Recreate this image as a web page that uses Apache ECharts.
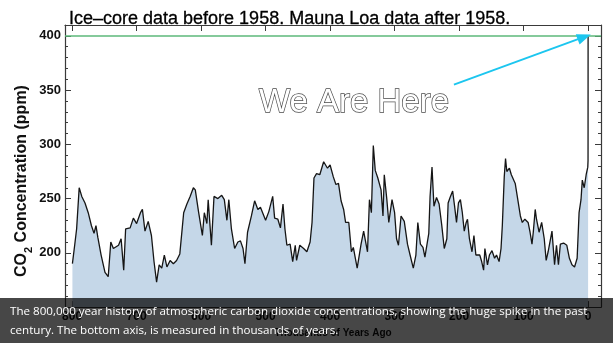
<!DOCTYPE html>
<html>
<head>
<meta charset="utf-8">
<script src="https://cdn.jsdelivr.net/npm/echarts@6/dist/echarts.min.js"></script>
<style>
html,body{margin:0;padding:0;background:#fff;}
#c{width:613px;height:343px;}
</style>
</head>
<body>
<div id="c"></div>
<script>
// Thousands of years ago
const years = [799.5,796,793,789,785,780,775,770,766,763,760,755,749,744,740,736,728,724,720,717,710,705,700,694,691,687,682,677,673,669,665,661,657,653,648,643,638,633,627,622,617,612,609,604,598,595,591,589,584,580,574,568,564,560,557,553,548,543,539,535,532,528,522,517,512,508,504,500,495,489,486,481,477,473,470,467,462,458,454,452,447,441,436,431,428,425,421,416,410,408,404,400,395,391,387,383,379,376,371,367,364,358,352,348,346,342,339,336,333,330,326,321,318,316,312,309,304,300,297,294,290,285,280,276,271,267,264,260,256,253,247,245,242,239,235,231,227,223,219,217,214,210,207,204,201,198,195,192,189,187,184,180,177,174,168,165,162,160,156,153,149,145,142,138,135,133,130,128,126,122,119,116,113,109,105,102,98,93,90,87,85,82,80,76,72,68,65,62,56,52,49,46,43,38,33,29,25,21,19,17,14,11,9,6,3,0.5,0.1,0.05,0];
// CO2 concentration (ppm)
const co2 = [190,207,222,260,252,246,237,225,218,225,214,198,182,178,210,204,207,213,184,222,223,232,227,237,240,220,229,216,192,173,189,186,198,187,193,190,193,199,237,245,252,260,258,238,216,237,227,249,207,252,250,253,249,230,249,222,204,210,211,204,190,219,234,248,240,242,236,230,238,252,232,231,223,245,222,207,208,192,207,193,207,204,201,210,228,269,273,272,284,285,278,281,270,263,264,248,240,228,228,201,205,186,208,220,219,201,249,237,299,276,269,258,234,272,249,228,249,237,213,207,234,229,208,198,186,198,228,208,205,196,218,252,279,243,251,245,226,204,213,246,251,257,243,228,246,249,237,220,228,231,213,201,216,198,198,192,184,204,189,198,202,195,198,192,204,225,270,287,275,278,272,273,264,249,234,228,231,228,219,208,219,240,231,219,228,213,193,201,220,189,207,189,208,209,207,195,189,187,186,195,237,249,267,260,272,279,285,315,400];
const xTicks = [800,700,600,500,400,300,200,100,0];
const yMajor = [150,200,250,300,350,400];
const yLabels = [200,250,300,350,400];
const yMinor = [150,160,170,180,190,200,210,220,230,240,250,260,270,280,290,300,310,320,330,340,350,360,370,380,390,400];
const titleText = 'Ice\u2013core data before 1958. Mauna Loa data after 1958.';
const xName = 'Thousands of Years Ago';
const annotation = 'We Are Here';
const arrowFrom = [208, 355];
const arrowTo = [6, 399];
const refLevel = 400;
const caption = 'The 800,000 year history of atmospheric carbon dioxide concentrations, showing the huge spike in the past\ncentury. The bottom axis, is measured in thousands of years.';

const points = years.map((y, i) => [y, co2[i]]);
const AX = '#3a3a3a';
const FONT = '"Liberation Sans", Arial, Helvetica, sans-serif';

function xAx(pos, labels) {
  return {
    type: 'value', inverse: true, min: -20, max: 811, position: pos,
    axisLine: {show: true, onZero: false, lineStyle: {color: AX, width: 1.2}},
    axisTick: {show: true, inside: true, length: 6, customValues: xTicks, lineStyle: {color: AX, width: 1}},
    axisLabel: labels ? {show: true, customValues: xTicks, fontFamily: FONT, fontWeight: 'bold', fontSize: 12, color: '#111', margin: 4} : {show: false},
    splitLine: {show: false},
    name: labels ? xName : '',
    nameLocation: 'middle', nameGap: 20,
    nameTextStyle: {fontFamily: FONT, fontWeight: 'bold', fontSize: 10, color: '#111'}
  };
}
function yAx(pos, major, labels) {
  return {
    type: 'value', min: 150, max: 410, position: pos,
    axisLine: {show: major, onZero: false, lineStyle: {color: AX, width: 1.2}},
    axisTick: {show: true, inside: true, length: major ? 6 : 3, customValues: major ? yMajor : yMinor, lineStyle: {color: AX, width: 1}},
    axisLabel: labels ? {show: true, customValues: yLabels, fontFamily: FONT, fontWeight: 'bold', fontSize: 13, color: '#111', margin: 4} : {show: false},
    splitLine: {show: false}
  };
}

const chart = echarts.init(document.getElementById('c'), null, {renderer: 'canvas'});
chart.setOption({
  animation: false,
  backgroundColor: '#fff',
  title: {text: titleText, left: 64, top: 5, textStyle: {fontFamily: FONT, fontSize: 18, fontWeight: 'normal', color: '#000', textBorderColor: '#000', textBorderWidth: 0.3}},
  grid: {left: 65, right: 12, top: 25, bottom: 30, containLabel: false},
  xAxis: [xAx('bottom', true), xAx('top', false)],
  yAxis: [yAx('left', true, true), yAx('left', false, false), yAx('right', true, false), yAx('right', false, false)],
  series: [{
    type: 'line', xAxisIndex: 0, yAxisIndex: 0,
    data: points, showSymbol: false, silent: true,
    lineStyle: {color: '#151515', width: 1.3},
    areaStyle: {color: '#c5d7e8', opacity: 1, origin: 'start'},
    z: 2,
    markLine: {
      silent: true, animation: false,
      symbol: ['none', 'none'],
      label: {show: false},
      lineStyle: {type: 'solid'},
      data: [
        {yAxis: refLevel, lineStyle: {color: '#5cb87a', width: 1.6, type: 'solid'}},
        [{coord: arrowFrom, symbol: 'none'}, {coord: arrowTo, symbol: 'triangle', symbolSize: [11, 14], lineStyle: {color: '#1cc6ef', width: 2, type: 'solid'}}]
      ]
    }
  }],
  graphic: [
    {
      type: 'text', x: 22, y: 181, rotation: Math.PI / 2, z: 10,
      style: {
        text: '{n|CO}{s|2}{n| Concentration (ppm)}',
        align: 'center', verticalAlign: 'middle',
        fill: '#111',
        rich: {
          n: {fontFamily: FONT, fontWeight: 'bold', fontSize: 16, lineHeight: 20, verticalAlign: 'middle', fill: '#111'},
          s: {fontFamily: FONT, fontWeight: 'bold', fontSize: 11, lineHeight: 25, verticalAlign: 'bottom', fill: '#111'}
        }
      }
    },
    {
      type: 'text', x: 354, y: 103, z: 10,
      style: {
        text: annotation, align: 'center', verticalAlign: 'middle',
        font: '33px ' + FONT, fill: '#ffffff', stroke: '#4a4a4a', lineWidth: 1.4
      }
    },
    {
      type: 'rect', z: 100, shape: {x: 0, y: 298, width: 613, height: 45},
      style: {fill: 'rgba(0,0,0,0.72)'}
    },
    {
      type: 'text', z: 101, x: 10, y: 303,
      style: {
        text: caption, align: 'left', verticalAlign: 'top',
        font: '11.6px "Open Sans", Roboto, sans-serif', fill: '#ffffff', lineHeight: 18.3
      }
    }
  ]
});
</script>
</body>
</html>
